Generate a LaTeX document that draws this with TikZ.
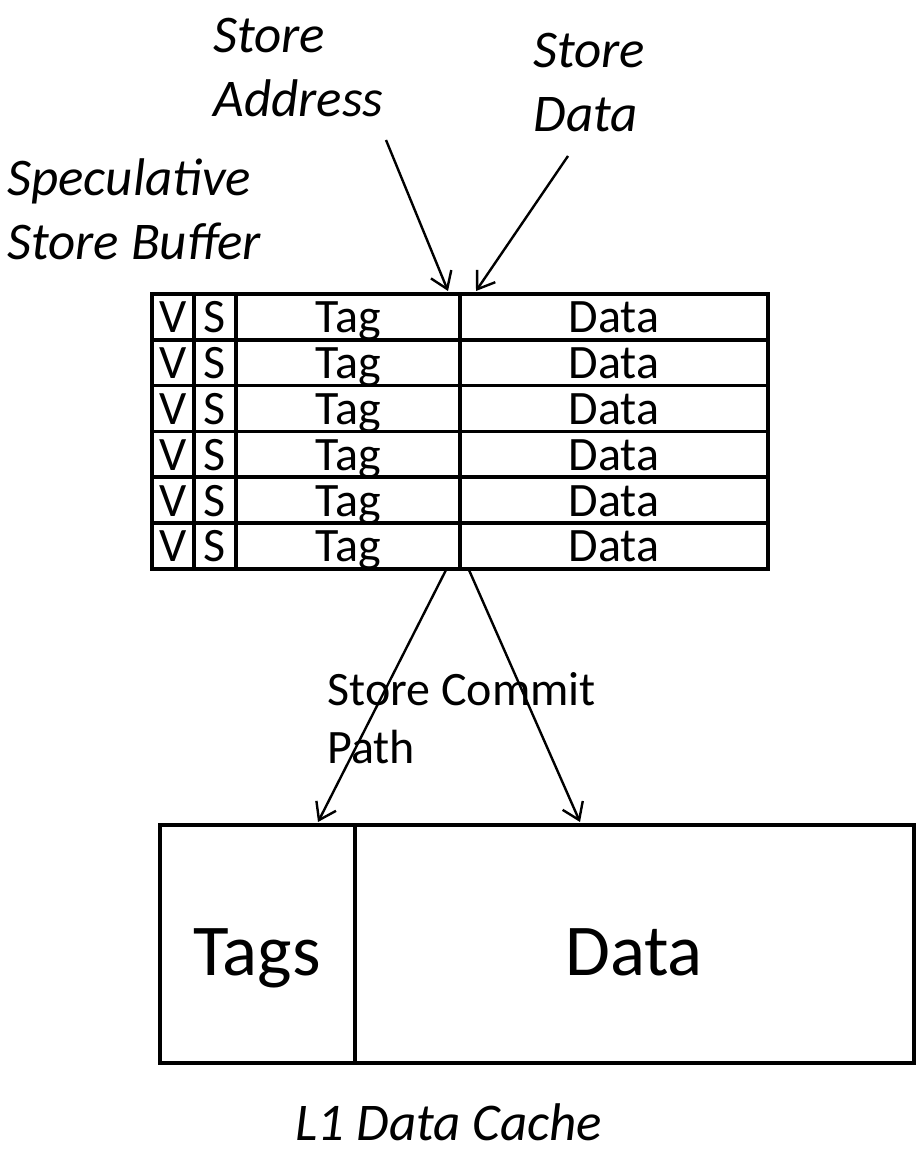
\documentclass[tikz,border=0pt]{standalone}
\usepackage{fontspec}
\setmainfont{Carlito}
\usetikzlibrary{arrows.meta}

\begin{document}
\begin{tikzpicture}[x=0.5pt,y=-0.5pt,
	note/.style={font=\fontsize{26.5}{32}\selectfont\itshape, align=left, inner sep=0pt, anchor=base west},
	cell/.style={font=\fontsize{24}{29}\selectfont, inner sep=0pt, anchor=base},
	bigcell/.style={font=\fontsize{36.5}{44}\selectfont, inner sep=0pt, anchor=base},
	grid/.style={line width=1.8pt},
	flow/.style={-{Straight Barb[length=8pt,width=11pt,line width=1.2pt]}, line width=1.2pt}]
	\pgfmathsetmacro{\bufleft}{152}		%left edge of store buffer
	\pgfmathsetmacro{\bufright}{768}	%right edge of store buffer
	\pgfmathsetmacro{\buftop}{294}		%top edge of store buffer
	\pgfmathsetmacro{\rowh}{45.8}		%height of one entry
	\pgfmathsetmacro{\colvs}{194}		%V|S divider
	\pgfmathsetmacro{\colst}{236}		%S|Tag divider
	\pgfmathsetmacro{\coltd}{460}		%Tag|Data divider

	%calculated
	\pgfmathsetmacro{\bufbot}{\buftop+6*\rowh}

	\useasboundingbox (0,0) rectangle (922,1154);

	%store buffer
	\draw[grid] (\bufleft,\buftop) rectangle (\bufright,\bufbot);
	\foreach \i in {1,...,5}
		\draw[grid] (\bufleft,\buftop+\i*\rowh) -- (\bufright,\buftop+\i*\rowh);
	\foreach \x in {\colvs,\colst,\coltd}
		\draw[grid] (\x,\buftop) -- (\x,\bufbot);
	\foreach \i in {1,...,6} {
		\node[cell] (v\i) at ({(\bufleft+\colvs)/2},{\buftop+\i*\rowh-7}) {V};
		\node[cell] (s\i) at ({(\colvs+\colst)/2},{\buftop+\i*\rowh-7}) {S};
		\node[cell] (tag\i) at ({(\colst+\coltd)/2},{\buftop+\i*\rowh-7}) {Tag};
		\node[cell] (data\i) at ({(\coltd+\bufright)/2},{\buftop+\i*\rowh-7}) {Data};
	}

	%labels (anchored at the baseline of the last line)
	\node[note] (addr) at (213,117) {Store\\Address};
	\node[note] (sdata) at (533,132) {Store\\Data};
	\node[note] (ssb) at (7,260) {Speculative\\Store Buffer};
	\node[note, anchor=base] (l1) at (449,1140) {L1 Data Cache};
	\node[font=\fontsize{24}{29}\selectfont, align=left, inner sep=0pt, anchor=base west] (commit) at (327,763) {Store Commit\\Path};

	%L1 data cache
	\draw[grid] (160,825) rectangle (914,1063);
	\draw[grid] (355,825) -- (355,1063);
	\node[bigcell] (tags) at (257,975) {Tags};
	\node[bigcell] (cdata) at (634,975) {Data};

	%arrow ends
	\coordinate (addrin) at (448,291);
	\coordinate (datain) at (476,291);
	\coordinate (tagout) at (446,570);
	\coordinate (dataout) at (469,570);
	\coordinate (tagin) at (318,822);
	\coordinate (cachein) at (580,822);

	\draw[flow] (386,140) -- (addrin);
	\draw[flow] (568,156) -- (datain);
	\draw[flow] (tagout) -- (tagin);
	\draw[flow] (dataout) -- (cachein);

\end{tikzpicture}
\end{document}
